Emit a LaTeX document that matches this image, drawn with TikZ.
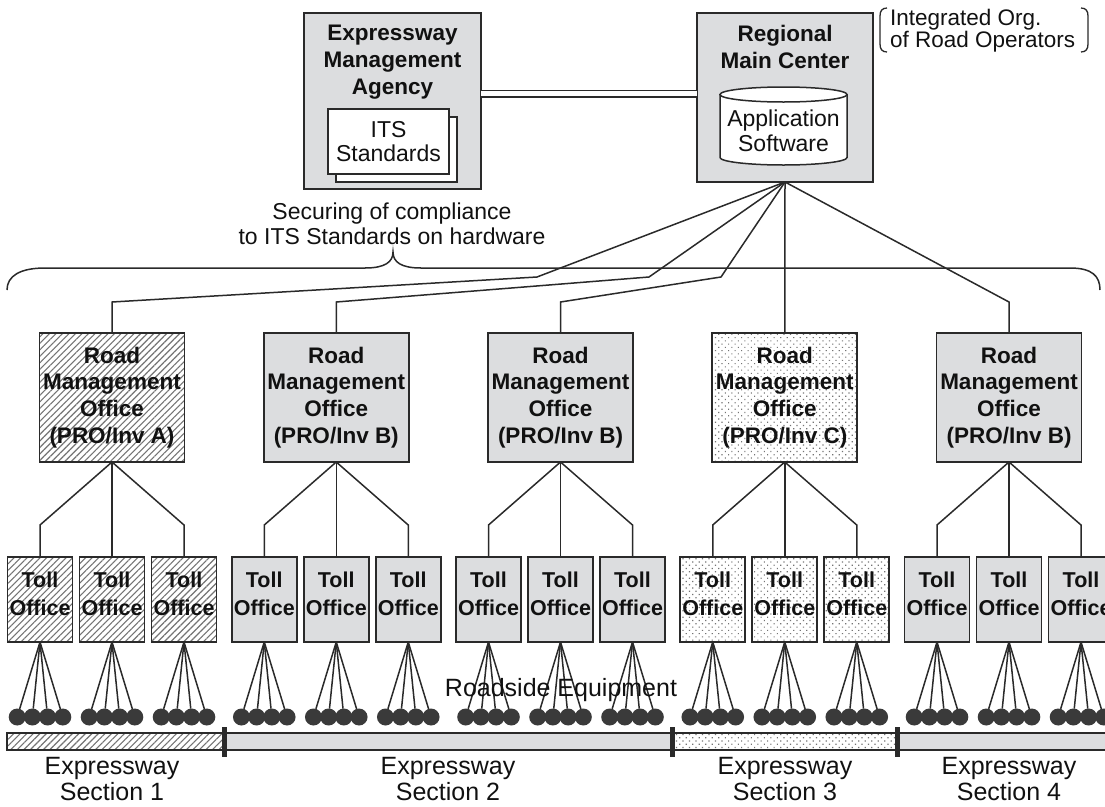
\documentclass[tikz,border=0pt]{standalone}
\usepackage{fontspec}
\setmainfont{Liberation Sans}
\usetikzlibrary{patterns.meta}
\definecolor{ln}{HTML}{2A2A2A}
\definecolor{bg}{HTML}{DCDDDF}
\definecolor{hc}{HTML}{747474}
\definecolor{dotc}{HTML}{3A3A3A}
\definecolor{tx}{HTML}{111111}
\begin{document}
\begin{tikzpicture}[x=1pt,y=-1pt,
  every node/.style={inner sep=0pt, outer sep=0pt, text=tx},
  bx/.style={rectangle, draw=ln, line width=1.8pt, fill=bg},
  hatchbx/.style={rectangle, draw=ln, line width=1.8pt, preaction={fill=white}, pattern={Lines[angle=45,distance=4.6pt,line width=1.1pt]}, pattern color=hc},
  dotbx/.style={rectangle, draw=ln, line width=1.8pt, preaction={fill=white}, pattern={Dots[angle=45,distance=4.6pt,radius=0.85pt]}, pattern color=hc},
  docbx/.style={rectangle, draw=ln, line width=1.5pt, fill=white, minimum width=121, minimum height=65},
  rmo/.style={minimum width=145, minimum height=129, bt},
  toll/.style={minimum width=65, minimum height=85},
  bt/.style={font=\fontsize{22.5}{26.8}\selectfont\bfseries, align=center},
  tt/.style={font=\fontsize{21.5}{28}\selectfont\bfseries, align=center},
  rt/.style={font=\fontsize{23}{24.5}\selectfont, align=center},
  lt/.style={font=\fontsize{25}{26.5}\selectfont, align=center},
  cn/.style={draw=ln, line width=1.5pt},
  eq/.style={circle, fill=dotc, minimum size=17},
  dbl/.style={draw=ln, line width=1.6pt, double=white, double distance=4.8pt}
]
\useasboundingbox (0,0) rectangle (1105,806);

% top boxes
\node[bx, minimum width=177, minimum height=176] (ema) at (392.5,101) {};
\node[bt] (ematext) at (392.5,62) {Expressway\\Management\\Agency};
\node[docbx] (itsb) at (396.5,149.5) {};
\node[docbx] (its) at (388.5,141.5) {};
\node[rt] (itstext) at (388.5,141.5) {ITS\\Standards};

\node[bx, minimum width=176, minimum height=169] (rmc) at (785,97.5) {};
\node[bt] (rmctext) at (785,47) {Regional\\Main Center};
\draw[draw=ln, line width=1.5pt, fill=white] (720,94.5) -- (720,157.5) arc[start angle=180, end angle=0, x radius=63.5, y radius=7.5] -- (847,94.5);
\draw[draw=ln, line width=1.5pt, fill=white] (783.5,94.5) ellipse [x radius=63.5, y radius=7.5];
\node[rt] (apptext) at (783.5,131) {Application\\Software};

\coordinate (mid) at (589,93.5);
\draw[dbl] (ema.east |- mid) -- (rmc.west |- mid);

% integrated org note
\draw[draw=ln, line width=1.3pt] (887,8) .. controls (882,8) and (880,11) .. (880,16) -- (880,44) .. controls (880,49) and (882,52) .. (887,52);
\draw[draw=ln, line width=1.3pt] (1081,8) .. controls (1086,8) and (1088,11) .. (1088,16) -- (1088,44) .. controls (1088,49) and (1086,52) .. (1081,52);
\node[font=\fontsize{22.5}{22}\selectfont, align=left, anchor=west] (org) at (890,31) {Integrated Org.\\of Road Operators};

% compliance note
\node[rt] (comp) at (392,224) {Securing of compliance\\to ITS Standards on hardware};

% road management offices
\node[hatchbx, rmo] (r1) at (112,397.5) {Road\\Management\\Office\\(PRO/Inv A)};
\node[bx, rmo] (r2) at (336.25,397.5) {Road\\Management\\Office\\(PRO/Inv B)};
\node[bx, rmo] (r3) at (560.5,397.5) {Road\\Management\\Office\\(PRO/Inv B)};
\node[dotbx, rmo] (r4) at (784.75,397.5) {Road\\Management\\Office\\(PRO/Inv C)};
\node[bx, rmo] (r5) at (1009,397.5) {Road\\Management\\Office\\(PRO/Inv B)};

\draw[cn] (rmc.south) -- (537,277) -- (112,302) -- (r1.north);
\draw[cn] (rmc.south) -- (649,277) -- (336.25,302) -- (r2.north);
\draw[cn] (rmc.south) -- (721,277) -- (560.5,302) -- (r3.north);
\draw[cn] (rmc.south) -- (r4.north);
\draw[cn] (rmc.south) -- (1009,302) -- (r5.north);

% brace
\draw[cn] (7,290) .. controls (7,276) and (20,268) .. (45,268) -- (365,268) .. controls (385,268) and (393,262) .. (393,252) .. controls (393,262) and (401,268) .. (421,268) -- (1070,268) .. controls (1092,268) and (1100,276) .. (1100,290);

% toll offices and roadside equipment
\foreach \i/\c/\st in {1/112/hatchbx,2/336.25/bx,3/560.5/bx,4/784.75/dotbx,5/1009/bx}{
  \foreach \j/\dx in {1/-72,2/0,3/72}{
    \node[\st, toll] (t\i-\j) at (\c+\dx,599.5) {};
    \node[tt] (tt\i-\j) at (\c+\dx,594) {Toll\\Office};
    \draw[cn] (r\i.south) -- (\c+\dx,525) -- (t\i-\j.north);
    \foreach \k/\ex in {1/-22.8,2/-7.6,3/7.6,4/22.8}{
      \node[eq] (e\i-\j-\k) at (\c+\dx+\ex,717) {};
      \draw[cn] (t\i-\j.south) -- (e\i-\j-\k);
    }
  }
}
\node[lt] (road) at (561,690.5) {Roadside Equipment};

% expressway bar
\path[preaction={fill=white}, pattern={Lines[angle=45,distance=4.6pt,line width=1.1pt]}, pattern color=hc] (7,733) rectangle (224,750);
\fill[bg] (224,733) rectangle (672,750);
\path[preaction={fill=white}, pattern={Dots[angle=45,distance=4.6pt,radius=0.85pt]}, pattern color=hc] (672,733) rectangle (897,750);
\fill[bg] (897,733) rectangle (1110,750);
\draw[draw=ln, line width=1.8pt] (1110,733) -- (7,733) -- (7,750) -- (1110,750);
\fill[ln] (221.5,727) rectangle (226.5,757);
\fill[ln] (669.5,727) rectangle (674.5,757);
\fill[ln] (894.5,727) rectangle (899.5,757);

\node[lt] (s1) at (112,779) {Expressway\\Section 1};
\node[lt] (s2) at (448,779) {Expressway\\Section 2};
\node[lt] (s3) at (785,779) {Expressway\\Section 3};
\node[lt] (s4) at (1009,779) {Expressway\\Section 4};
\end{tikzpicture}
\end{document}
